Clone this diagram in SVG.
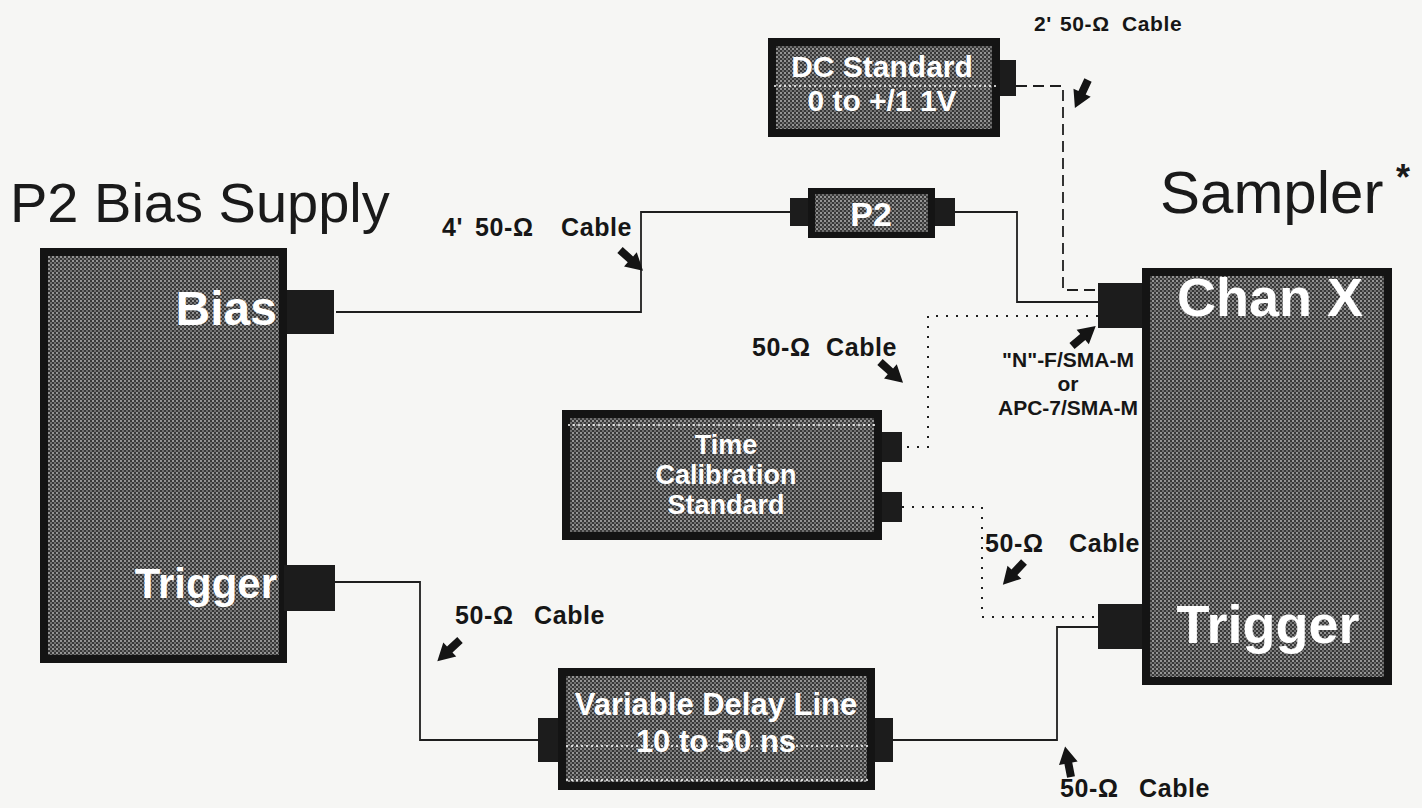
<svg xmlns="http://www.w3.org/2000/svg" width="1422" height="808" viewBox="0 0 1422 808">
<defs>
<pattern id="ht" width="4" height="4" patternUnits="userSpaceOnUse">
<rect width="4" height="4" fill="#383838"/>
<circle cx="1" cy="1" r="1" fill="#b4b4b4"/>
<circle cx="3" cy="3" r="0.9" fill="#8c8c8c"/>
</pattern>
<path id="barrow" d="M0,-4 L14,-4 L14,-9.5 L31,0 L14,9.5 L14,4 L0,4 z"/>
</defs>
<style>
.bg{fill:#f6f6f4}
.box{fill:#141414}
.inner{fill:url(#ht)}
.port{fill:#1c1c1c}
.title{font-family:"Liberation Sans",Arial,sans-serif;fill:#1a1a1a}
.wt{font-family:"Liberation Sans",Arial,sans-serif;font-weight:bold;fill:#ffffff;text-anchor:middle}
.lbl{font-family:"Liberation Sans",Arial,sans-serif;font-weight:bold;fill:#161616;font-size:25px;letter-spacing:0.6px}
.solid{fill:none;stroke:#1e1e1e;stroke-width:1.8}
.dash{fill:none;stroke:#1e1e1e;stroke-width:1.8;stroke-dasharray:11 6}
.dot{fill:none;stroke:#1e1e1e;stroke-width:2;stroke-dasharray:2 8}
.wdot{fill:none;stroke:#ffffff;stroke-width:1.6;stroke-dasharray:2 3}
.arr{fill:#141414}
</style>
<rect class="bg" x="0" y="0" width="1422" height="808"/>

<g id="connectors">
<path class="solid" d="M336,312 H641 V212 H790"/>
<path class="solid" d="M955,212 H1017 V302 H1098"/>
<path class="dash" d="M1016,86 H1063 V290 H1098"/>
<path class="dot" d="M1098,316 H928 V447 H902"/>
<path class="dot" d="M902,507 H982 V617 H1098"/>
<path class="solid" d="M335,582 H420 V740 H540"/>
<path class="solid" d="M893,740 H1057 V627 H1098"/>
</g>

<g id="labels">
<text class="lbl" y="31" style="font-size:21px"><tspan x="1034">2'</tspan><tspan x="1060">50-Ω</tspan><tspan x="1122">Cable</tspan></text>
<use href="#barrow" class="arr" transform="translate(1088,80) rotate(115)"/>
<text class="lbl" y="236"><tspan x="442">4'</tspan><tspan x="475">50-Ω</tspan><tspan x="561">Cable</tspan></text>
<use href="#barrow" class="arr" transform="translate(620,250) rotate(42)"/>
<text class="lbl" y="356"><tspan x="752">50-Ω</tspan><tspan x="826">Cable</tspan></text>
<use href="#barrow" class="arr" transform="translate(880,362) rotate(42)"/>
<text class="lbl" style="font-size:21px;letter-spacing:0" text-anchor="middle" x="1068" y="367">"N"-F/SMA-M</text>
<text class="lbl" style="font-size:21px;letter-spacing:0" text-anchor="middle" x="1068" y="391">or</text>
<text class="lbl" style="font-size:21px;letter-spacing:0" text-anchor="middle" x="1068" y="415">APC-7/SMA-M</text>
<use href="#barrow" class="arr" transform="translate(1072,346) rotate(-40)"/>
<text class="lbl" y="552"><tspan x="985">50-Ω</tspan><tspan x="1069">Cable</tspan></text>
<use href="#barrow" class="arr" transform="translate(1024,562) rotate(133)"/>
<text class="lbl" y="624"><tspan x="455">50-Ω</tspan><tspan x="534">Cable</tspan></text>
<use href="#barrow" class="arr" transform="translate(460,640) rotate(137)"/>
<text class="lbl" y="797"><tspan x="1060">50-Ω</tspan><tspan x="1139">Cable</tspan></text>
<use href="#barrow" class="arr" transform="translate(1071,777) rotate(-101)"/>
</g>

<g id="bias-supply">
<text class="title" x="10" y="222" font-size="56">P2 Bias Supply</text>
<rect class="box" x="40" y="248" width="247" height="415"/>
<rect class="inner" x="48" y="256" width="231" height="399"/>
<rect class="port" x="287" y="290" width="47" height="44"/>
<rect class="port" x="284" y="565" width="51" height="46"/>
<text class="wt" x="277" y="325" font-size="48" style="text-anchor:end">Bias</text>
<text class="wt" x="277" y="598" font-size="42" style="text-anchor:end">Trigger</text>
</g>

<g id="dc-standard">
<rect class="box" x="768" y="38" width="232" height="99"/>
<rect class="inner" x="776" y="46" width="216" height="83"/>
<rect class="port" x="1000" y="60" width="16" height="36"/>
<line class="wdot" x1="774" y1="86" x2="996" y2="86"/>
<text class="wt" x="882" y="77" font-size="30">DC Standard</text>
<text class="wt" x="882" y="111" font-size="30">0 to +/1 1V</text>
</g>

<g id="p2">
<rect class="box" x="808" y="188" width="127" height="50"/>
<rect class="inner" x="815" y="194" width="113" height="38"/>
<rect class="port" x="790" y="198" width="18" height="28"/>
<rect class="port" x="935" y="198" width="20" height="28"/>
<text class="wt" x="871" y="226" font-size="34">P2</text>
</g>

<g id="sampler">
<text class="title" x="1160" y="213" font-size="60">Sampler</text>
<text class="title" x="1396" y="190" font-size="36" font-weight="bold">*</text>
<rect class="box" x="1142" y="268" width="250" height="417"/>
<rect class="inner" x="1150" y="276" width="234" height="401"/>
<rect class="port" x="1098" y="283" width="44" height="45"/>
<rect class="port" x="1098" y="604" width="44" height="45"/>
<text class="wt" x="1270" y="316" font-size="54">Chan X</text>
<text class="wt" x="1268" y="643" font-size="54">Trigger</text>
</g>

<g id="time-cal">
<rect class="box" x="562" y="410" width="320" height="130"/>
<rect class="inner" x="570" y="418" width="304" height="114"/>
<rect class="port" x="882" y="432" width="20" height="30"/>
<rect class="port" x="882" y="492" width="20" height="30"/>
<line class="wdot" x1="568" y1="425" x2="876" y2="425"/>
<text class="wt" x="726" y="454" font-size="27">Time</text>
<text class="wt" x="726" y="484" font-size="27">Calibration</text>
<text class="wt" x="726" y="514" font-size="27">Standard</text>
</g>

<g id="delay-line">
<rect class="box" x="558" y="668" width="317" height="122"/>
<rect class="inner" x="566" y="676" width="301" height="106"/>
<rect class="port" x="538" y="718" width="20" height="44"/>
<rect class="port" x="875" y="718" width="18" height="44"/>
<line class="wdot" x1="566" y1="746" x2="868" y2="746"/>
<line class="wdot" x1="566" y1="780" x2="868" y2="780"/>
<text class="wt" x="716" y="715" font-size="31">Variable Delay Line</text>
<text class="wt" x="716" y="752" font-size="31">10 to 50 ns</text>
</g>
</svg>
